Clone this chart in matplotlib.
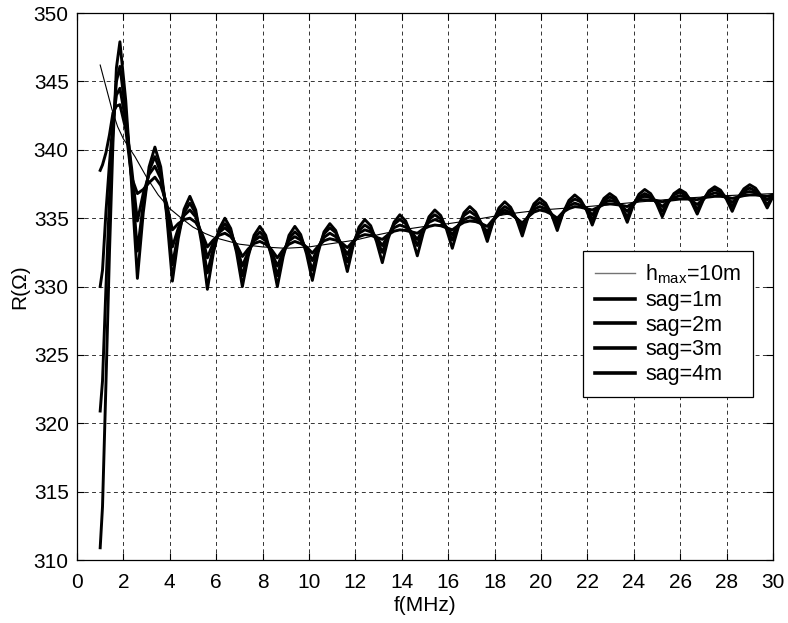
import numpy as np
import matplotlib
matplotlib.use("Agg")
import matplotlib.pyplot as plt

plt.rcParams['font.family'] = ['Liberation Sans', 'DejaVu Sans']
plt.rcParams['mathtext.fontset'] = 'custom'
plt.rcParams['mathtext.rm'] = 'Liberation Sans'

# ---- data -------------------------------------------------------------
f_h = [1.0, 1.25, 1.5, 1.75, 2.0, 2.5, 3.0, 3.5, 4.0, 4.5, 5.0, 5.5, 6.0, 7.0, 8.0,
       9.0, 10.0, 11.0, 12.0, 13.0, 14.0, 15.0, 16.0, 17.0, 18.0, 19.0, 20.0,
       22.0, 24.0, 26.0, 28.0, 30.0]
r_hmax = [346.2, 344.6, 343.0, 341.7, 340.8, 339.5, 338.0, 336.7, 335.7, 335.0, 334.35,
          333.9, 333.55, 333.1, 332.9, 332.8, 332.9, 333.15, 333.4, 333.8, 334.15,
          334.4, 334.6, 334.85, 335.15, 335.4, 335.6, 335.85, 336.15, 336.45, 336.65,
          336.8]

f_start = [1.0, 1.1, 1.25, 1.4, 1.55, 1.7]
f_sag = np.concatenate([f_start, np.linspace(1.85, 30.0, 113)])

r_sag1 = [338.5, 338.9, 339.8, 341.1, 342.7, 343.2,
          343.3, 341.5, 338.0, 336.8, 337.1, 337.6,
          338.0, 337.4, 336.1, 334.15, 334.6, 334.9,
          335.0, 334.7, 333.95, 332.9, 333.4, 333.75,
          333.9, 333.65, 333.05, 332.2, 332.75, 333.15,
          333.3, 333.1, 332.7, 332.1, 332.7, 333.1,
          333.3, 333.15, 332.9, 332.45, 332.95, 333.35,
          333.5, 333.4, 333.2, 332.85, 333.3, 333.65,
          333.8, 333.75, 333.6, 333.45, 333.8, 334.05,
          334.15, 334.1, 334.0, 333.9, 334.2, 334.4,
          334.5, 334.45, 334.3, 334.15, 334.45, 334.7,
          334.8, 334.75, 334.6, 334.4, 334.9, 335.25,
          335.4, 335.3, 335.0, 334.65, 335.1, 335.45,
          335.6, 335.5, 335.3, 335.0, 335.45, 335.7,
          335.85, 335.8, 335.7, 335.6, 335.8, 336.0,
          336.05, 336.0, 335.95, 335.85, 336.1, 336.3,
          336.35, 336.3, 336.3, 336.2, 336.3, 336.35,
          336.4, 336.4, 336.4, 336.35, 336.5, 336.55,
          336.6, 336.6, 336.55, 336.45, 336.55, 336.65,
          336.7, 336.7, 336.65, 336.6, 336.7]

r_sag2 = [330.0, 331.2, 335.5, 339.0, 342.0, 344.0,
          344.5, 342.1, 338.7, 334.8, 336.8, 338.2,
          338.8, 337.9, 335.85, 332.9, 334.25, 335.2,
          335.6, 335.1, 333.85, 332.1, 333.2, 333.95,
          334.3, 333.9, 332.9, 331.5, 332.55, 333.35,
          333.65, 333.35, 332.55, 331.5, 332.55, 333.35,
          333.65, 333.4, 332.8, 331.9, 332.9, 333.6,
          333.9, 333.65, 333.1, 332.35, 333.25, 333.9,
          334.15, 334.0, 333.6, 333.0, 333.75, 334.3,
          334.5, 334.35, 334.0, 333.45, 334.2, 334.7,
          334.9, 334.75, 334.35, 333.8, 334.45, 334.9,
          335.1, 334.95, 334.55, 334.0, 334.8, 335.35,
          335.6, 335.4, 335.0, 334.4, 335.1, 335.65,
          335.85, 335.7, 335.3, 334.75, 335.4, 335.9,
          336.1, 335.95, 335.7, 335.25, 335.8, 336.15,
          336.3, 336.2, 335.9, 335.5, 336.05, 336.45,
          336.6, 336.5, 336.25, 335.85, 336.25, 336.5,
          336.65, 336.55, 336.3, 336.0, 336.4, 336.7,
          336.85, 336.75, 336.5, 336.15, 336.55, 336.85,
          336.95, 336.85, 336.65, 336.35, 336.65]

r_sag3 = [320.9, 323.1, 330.0, 336.5, 341.5, 345.0,
          346.1, 342.7, 338.0, 332.6, 336.05, 338.45,
          339.5, 338.3, 335.55, 331.6, 333.85, 335.4,
          336.1, 335.35, 333.55, 331.0, 332.8, 334.05,
          334.6, 334.05, 332.7, 330.8, 332.4, 333.5,
          334.0, 333.5, 332.4, 330.8, 332.4, 333.5,
          334.0, 333.6, 332.6, 331.2, 332.75, 333.85,
          334.3, 333.95, 333.05, 331.8, 333.15, 334.1,
          334.5, 334.2, 333.5, 332.5, 333.7, 334.55,
          334.9, 334.6, 333.95, 333.0, 334.1, 334.9,
          335.25, 334.95, 334.3, 333.4, 334.45, 335.2,
          335.5, 335.2, 334.6, 333.65, 334.75, 335.5,
          335.85, 335.6, 334.95, 334.1, 335.1, 335.85,
          336.15, 335.9, 335.3, 334.45, 335.4, 336.1,
          336.4, 336.2, 335.65, 334.9, 335.7, 336.3,
          336.55, 336.35, 335.8, 335.1, 335.95, 336.55,
          336.8, 336.6, 336.15, 335.5, 336.2, 336.7,
          336.9, 336.7, 336.3, 335.65, 336.35, 336.9,
          337.1, 336.9, 336.5, 335.85, 336.5, 337.0,
          337.2, 337.0, 336.6, 336.0, 336.6]

r_sag4 = [310.9, 313.9, 323.0, 332.5, 340.5, 346.0,
          347.9, 343.6, 337.5, 330.6, 335.4, 338.75,
          340.2, 338.75, 335.3, 330.4, 333.5, 335.65,
          336.6, 335.6, 333.2, 329.8, 332.4, 334.2,
          335.0, 334.25, 332.5, 330.0, 332.2, 333.75,
          334.4, 333.75, 332.2, 330.0, 332.2, 333.75,
          334.4, 333.8, 332.4, 330.45, 332.5, 334.0,
          334.6, 334.1, 332.85, 331.1, 333.0, 334.35,
          334.9, 334.45, 333.3, 331.75, 333.5, 334.7,
          335.25, 334.8, 333.75, 332.25, 333.9, 335.1,
          335.6, 335.2, 334.2, 332.8, 334.3, 335.4,
          335.85, 335.45, 334.6, 333.3, 334.75, 335.75,
          336.2, 335.8, 334.95, 333.7, 335.1, 336.05,
          336.45, 336.1, 335.3, 334.1, 335.4, 336.3,
          336.7, 336.35, 335.6, 334.5, 335.65, 336.45,
          336.8, 336.5, 335.75, 334.7, 335.9, 336.75,
          337.1, 336.8, 336.1, 335.1, 336.1, 336.8,
          337.1, 336.85, 336.2, 335.3, 336.3, 337.0,
          337.3, 337.05, 336.4, 335.5, 336.5, 337.15,
          337.45, 337.2, 336.6, 335.75, 336.6]

labels = [r'h$_{\mathregular{max}}$=10m', 'sag=1m', 'sag=2m', 'sag=3m', 'sag=4m']
x_ticks = list(range(0, 31, 2))
y_ticks = list(range(310, 351, 5))

# ---- figure ------------------------------------------------------------
fig = plt.figure(figsize=(7.88, 6.23), dpi=100)
ax = fig.add_axes([0.0977, 0.101, 0.8833, 0.878])

ax.plot(f_h, r_hmax, color='black', lw=0.8, label=labels[0], zorder=3)
for r, lab in zip([r_sag1, r_sag2, r_sag3, r_sag4], labels[1:]):
    ax.plot(f_sag, r, color='black', lw=2.1, label=lab, zorder=4,
            solid_joinstyle='round')

ax.set_xlim(0, 30)
ax.set_ylim(310, 350)
ax.set_xticks(x_ticks)
ax.set_yticks(y_ticks)
ax.grid(True, color='0.2', linestyle=(0, (4, 3.5)), lw=0.7)
ax.tick_params(direction='in', top=True, right=True, length=5, labelsize=15, width=0.8)
ax.tick_params(axis='x', pad=9)
ax.tick_params(axis='y', pad=6)
for s in ax.spines.values():
    s.set_linewidth(0.9)

ax.set_xlabel('f(MHz)', fontsize=15, labelpad=3)
ax.set_ylabel('R(Ω)', fontsize=15, labelpad=3)

leg = ax.legend(loc='upper left', bbox_to_anchor=(0.727, 0.565), fontsize=15.5,
                fancybox=False, framealpha=1, edgecolor='black',
                handlelength=1.85, handletextpad=0.5, labelspacing=0.17,
                borderpad=0.55, borderaxespad=0)
leg.get_frame().set_linewidth(0.9)
leg.get_lines()[0].set_color('0.45')
leg.get_lines()[0].set_linewidth(1.0)
for ln in leg.get_lines()[1:]:
    ln.set_linewidth(2.6)

fig.savefig('out.png', dpi=100)
